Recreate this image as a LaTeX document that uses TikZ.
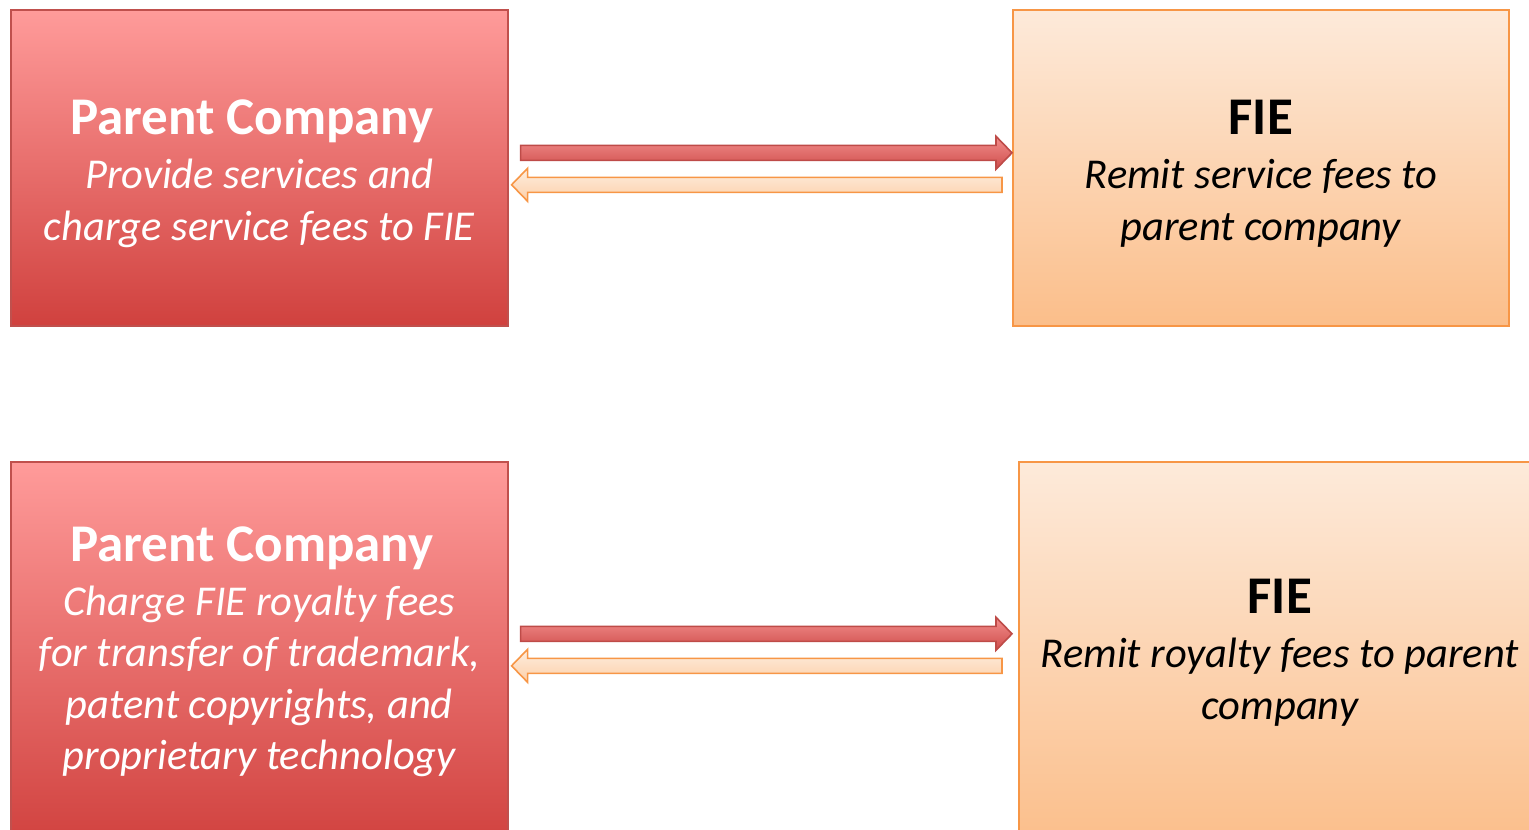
\documentclass[tikz,border=0pt]{standalone}
\usepackage{fontspec}
\setmainfont{Carlito}
\usetikzlibrary{calc}

\definecolor{redtop}{HTML}{FF9B9A}
\definecolor{redbot}{HTML}{D0413E}
\definecolor{redline}{HTML}{C0504D}
\definecolor{orgtop}{HTML}{FDEADA}
\definecolor{orgbot}{HTML}{FBBE8A}
\definecolor{orgline}{HTML}{F79646}
\definecolor{rarrtop}{HTML}{F28E8D}
\definecolor{rarrbot}{HTML}{CF4D4A}
\definecolor{rarrline}{HTML}{BE4B48}
\definecolor{oarrtop}{HTML}{FEEEE0}
\definecolor{oarrbot}{HTML}{FCCFA8}

% block arrow from tail #1 to tip #2, drawn with style #3
\newcommand\fatarrow[3]{%
  \path[#3] let \p1=(#1), \p2=(#2),
    \n2={(\x2>\x1) ? (\x2-16pt) : (\x2+16pt)} in
    (\x1,\y1+7.5pt) -- (\n2,\y1+7.5pt) -- (\n2,\y1+16.5pt) -- (\x2,\y1)
    -- (\n2,\y1-16.5pt) -- (\n2,\y1-7.5pt) -- (\x1,\y1-7.5pt) -- cycle;}

\tikzset{
  box/.style={rectangle, inner sep=0pt, anchor=north west, line width=1.6pt},
  redbox/.style={box, draw=redline, top color=redtop, bottom color=redbot},
  orgbox/.style={box, draw=orgline, top color=orgtop, bottom color=orgbot},
  boxtext/.style={inner sep=0pt, align=center,
    font=\fontsize{42.5}{51.5}\selectfont},
  redarrow/.style={draw=rarrline, line width=1.6pt, top color=rarrtop,
    bottom color=rarrbot},
  orgarrow/.style={draw=orgline, line width=1.6pt, top color=oarrtop,
    bottom color=oarrbot},
}
\newcommand\boxtitle[1]{{\fontsize{53}{54}\selectfont\bfseries #1}}

\begin{document}
\begin{tikzpicture}[x=1pt, y=-1pt]
\useasboundingbox (0,0) rectangle (1529,830);

% service fee pair
\node[redbox, minimum width=497pt, minimum height=316pt] (pc1) at (10,9) {};
\node[boxtext, text=white] (pc1t) at ($(pc1.center)+(0,6)$)
  {\boxtitle{Parent Company\kern15pt}\\[2.5pt]
   \itshape Provide services and\\
   \itshape charge service fees to FIE};
\node[orgbox, minimum width=496pt, minimum height=316pt] (fie1) at (1012,9) {};
\node[boxtext, text=black] (fie1t) at ($(fie1.center)+(0,6)$)
  {\boxtitle{FIE}\\[2.5pt]
   \itshape Remit service fees to\\
   \itshape parent company};

\coordinate (r1s) at ($(pc1.east)+(12,-15)$);
\coordinate (r1e) at ($(fie1.west)+(0,-15)$);
\coordinate (o1s) at ($(fie1.west)+(-10,17)$);
\coordinate (o1e) at ($(pc1.east)+(3,17)$);
\fatarrow{r1s}{r1e}{redarrow}
\fatarrow{o1s}{o1e}{orgarrow}

% royalty fee pair
\node[redbox, minimum width=497pt, minimum height=386pt] (pc2) at (10,461) {};
\node[boxtext, text=white] (pc2t) at ($(pc2.center)+(0,-3)$)
  {\boxtitle{Parent Company\kern15pt}\\[2.5pt]
   \itshape Charge FIE royalty fees\\
   \itshape for transfer of trademark,\\
   \itshape patent copyrights, and\\
   \itshape proprietary technology};
\node[orgbox, minimum width=522pt, minimum height=386pt] (fie2) at (1018,461) {};
\node[boxtext, text=black] (fie2t) at ($(fie2.center)+(0,-2)$)
  {\boxtitle{FIE}\\[2.5pt]
   \itshape Remit royalty fees to parent\\
   \itshape company};

\coordinate (r2s) at ($(pc2.east)+(12,-21)$);
\coordinate (r2e) at ($(fie2.west)+(-6,-21)$);
\coordinate (o2s) at ($(fie2.west)+(-16,11)$);
\coordinate (o2e) at ($(pc2.east)+(3,11)$);
\fatarrow{r2s}{r2e}{redarrow}
\fatarrow{o2s}{o2e}{orgarrow}
\end{tikzpicture}
\end{document}
